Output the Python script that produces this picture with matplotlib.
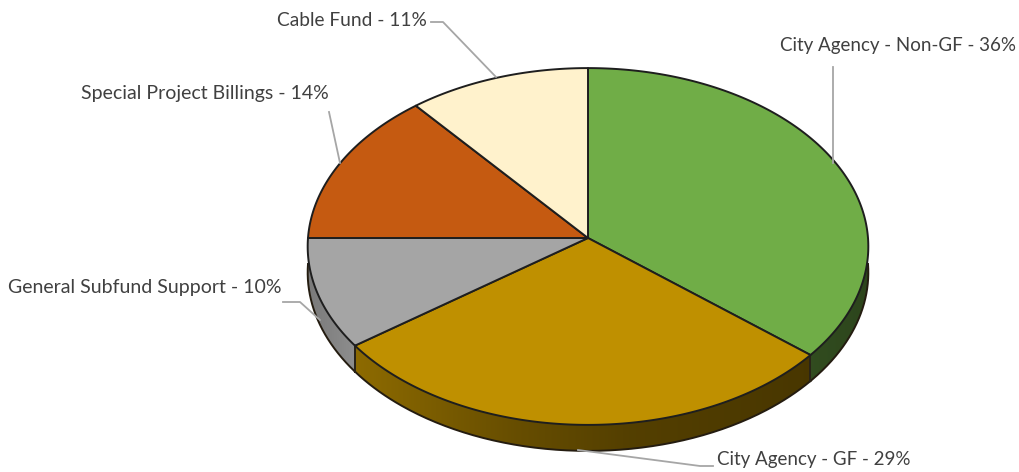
import matplotlib.pyplot as plt
import numpy as np
from matplotlib.patches import Polygon
from matplotlib.colors import to_rgb

plt.rcParams['font.family'] = ['Lato', 'DejaVu Sans']

# 数据
labels = ['City Agency - Non-GF', 'City Agency - GF', 'General Subfund Support',
          'Special Project Billings', 'Cable Fund']
shares = [36, 29, 10, 14, 11]
colors = ['#70AD47', '#BF9000', '#A5A5A5', '#C55A11', '#FFF2CC']

# 侧面明暗: 沿 x 方向的比例节点 (0 为扇区左端, 1 为右端)
wall_stops = [(0, 1), (0, 0.35, 0.6, 1), (0, 1), (0, 1), (0, 1)]
wall_shade = [(0.44, 0.40), (0.74, 0.54, 0.44, 0.38), (0.74, 0.86), (0.6, 0.6), (0.8, 0.8)]

# 饼图几何参数 (像素)
cx, cy = 588, 238
rx, ry = 280, 178
tilt = 0.0476
depth = 26


def rim(theta):
    # theta 从正上方顺时针, 带透视的圆周投影
    u, v = np.sin(theta), np.cos(theta)
    d = 1 + tilt * v
    return cx + rx * u / d, cy - ry * v / d


fig = plt.figure(figsize=(10.19, 4.72), dpi=100)
ax = fig.add_axes([0, 0, 1, 1])
ax.set_xlim(0, 1019)
ax.set_ylim(472, 0)
ax.axis('off')

edges = np.cumsum([0] + shares) / sum(shares) * 2 * np.pi

# 先画侧面, 只有朝前的部分可见
for i in range(len(shares)):
    a0 = max(edges[i], np.pi / 2)
    a1 = min(edges[i + 1], 3 * np.pi / 2)
    if a1 <= a0:
        continue
    t = np.linspace(a0, a1, 200)
    x, y = rim(t)
    outline = np.c_[np.r_[x, x[::-1]], np.r_[y, y[::-1] + depth]]
    xl, xr = x.min(), x.max()

    # 横向渐变, 用侧面轮廓裁剪
    frac = np.linspace(0, 1, 256)
    shade = np.interp(frac, wall_stops[i], wall_shade[i])
    grad = np.array(to_rgb(colors[i]))[None, None, :] * shade[None, :, None]
    im = ax.imshow(grad, extent=[xl, xr, y.max() + depth + 1, y.min() - 1],
                   aspect='auto', interpolation='bilinear', zorder=2)
    clip = Polygon(outline, closed=True, transform=ax.transData, fc='none', ec='none')
    ax.add_patch(clip)
    im.set_clip_path(clip)

    # 侧面下边缘
    ax.plot(x, y + depth, color='#241c10', lw=1.4, zorder=3)

    # 分界竖线
    for a in (a0, a1):
        if a in (np.pi / 2, 3 * np.pi / 2):
            continue
        px, py = rim(a)
        ax.plot([px, px], [py, py + depth], color='#2a2418', lw=1.3, zorder=3)

ax.set_xlim(0, 1019)
ax.set_ylim(472, 0)

# 顶面扇形
for i in range(len(shares)):
    t = np.linspace(edges[i], edges[i + 1], 200)
    x, y = rim(t)
    ax.fill(np.r_[cx, x], np.r_[cy, y], facecolor=colors[i], edgecolor='#1e1e1e',
            lw=1.4, joinstyle='round', zorder=4)

# 引导线
leaders = [([833, 833], [67, 163]),
           ([578, 700, 713], [450, 466, 466]),
           ([283, 300, 320], [302, 302, 320]),
           ([329, 340], [112, 163]),
           ([431, 443, 496], [22, 22, 77])]
for lx, ly in leaders:
    ax.plot(lx, ly, color='#a6a6a6', lw=1.3, zorder=5)

# 标签
label_pos = [(780, 46), (717, 460), (8, 287), (81, 94), (277, 20)]
label_size = [13.5, 13.5, 14.0, 14.0, 13.8]
for name, val, (px, py), fs in zip(labels, shares, label_pos, label_size):
    ax.text(px, py, f'{name} - {val}%', fontsize=fs, color='#404040',
            ha='left', va='center', zorder=6)

fig.savefig('out.png', dpi=100)
